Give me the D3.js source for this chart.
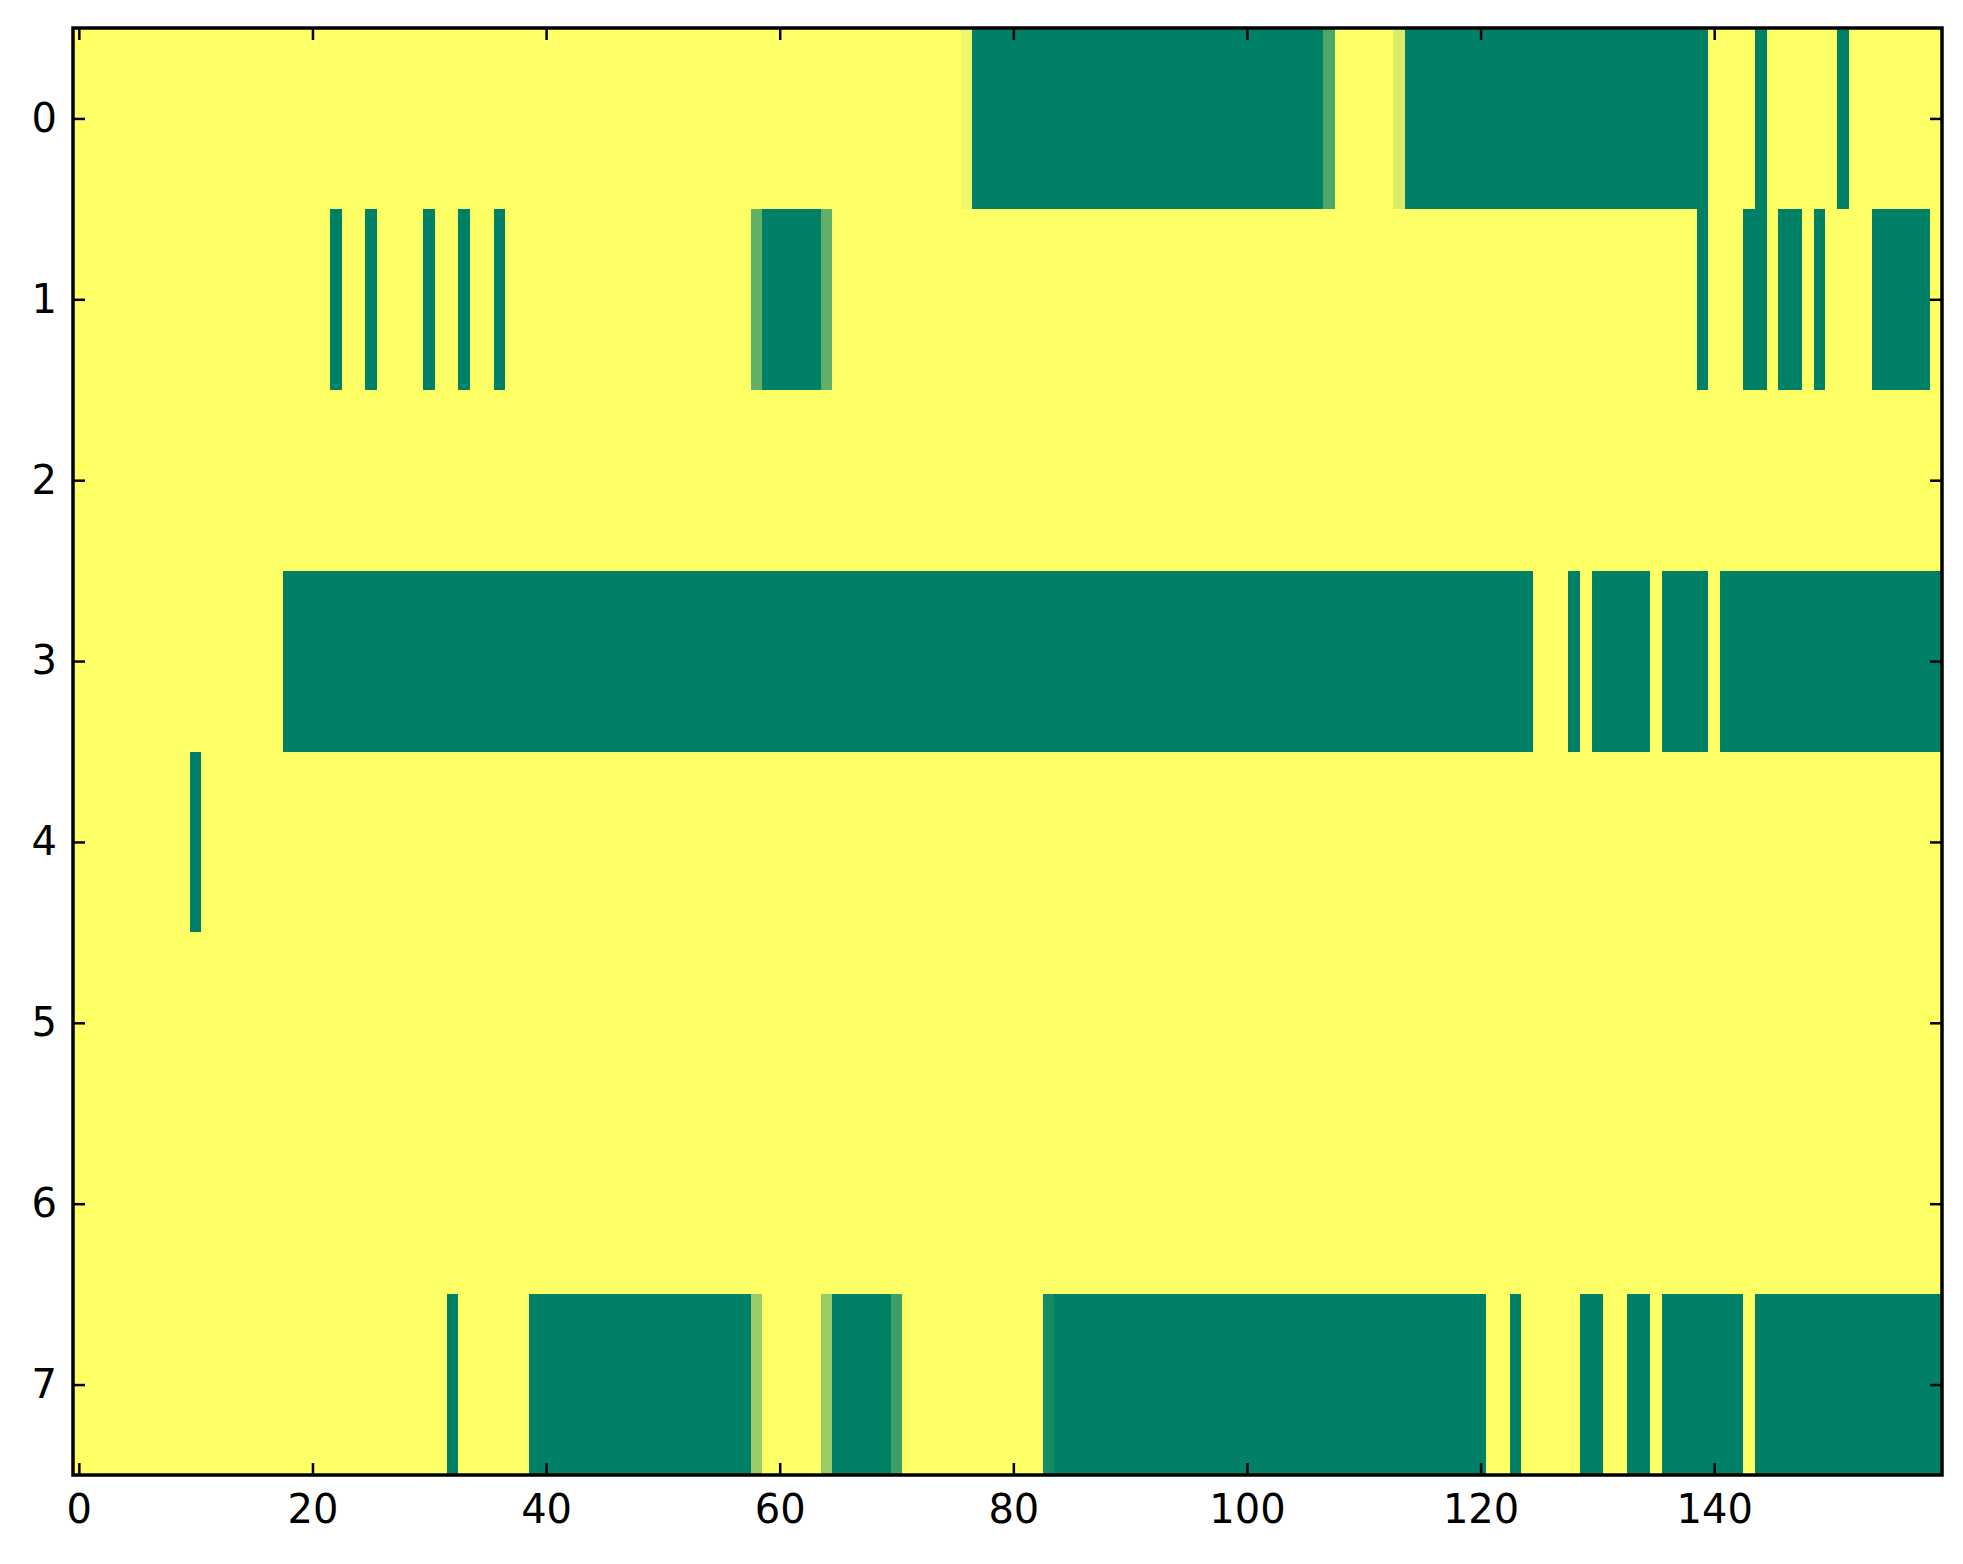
<!DOCTYPE html>
<html>
<head>
<meta charset="utf-8">
<script src="https://cdn.jsdelivr.net/npm/d3@7"></script>
<style>
  body { margin: 0; background: #fff; }
  text { font-family: "DejaVu Sans", sans-serif; }
</style>
</head>
<body>
<script>
// 8 rows x 160 columns, value 1 = yellow, 0 = green (summer colormap)
const nCols = 160;
const rowIds = [0, 1, 2, 3, 4, 5, 6, 7];
const xTicks = [0, 20, 40, 60, 80, 100, 120, 140];

// runs of non-yellow cells per row: [firstCol, lastCol, value]
const row0 = [[76, 76, 0.94], [77, 106, 0], [107, 107, 0.3], [113, 113, 0.86], [114, 139, 0], [144, 144, 0], [151, 151, 0]];
const row1 = [[22, 22, 0], [25, 25, 0], [30, 30, 0], [33, 33, 0], [36, 36, 0], [58, 58, 0.38], [59, 63, 0], [64, 64, 0.38],
              [139, 139, 0], [143, 144, 0], [146, 147, 0], [149, 149, 0], [154, 158, 0]];
const row2 = [];
const row3 = [[18, 124, 0], [128, 128, 0], [130, 134, 0], [136, 139, 0], [141, 159, 0]];
const row4 = [[10, 10, 0]];
const row5 = [];
const row6 = [];
const row7 = [[32, 32, 0], [39, 57, 0], [58, 58, 0.6], [64, 64, 0.6], [65, 69, 0], [70, 70, 0.24], [83, 83, 0.08],
              [84, 120, 0], [123, 123, 0], [129, 130, 0], [133, 134, 0], [136, 142, 0], [144, 159, 0]];
const rowRuns = [row0, row1, row2, row3, row4, row5, row6, row7];

const cells = [];
rowRuns.forEach((runs, r) => {
    const vals = new Array(nCols).fill(1);
    runs.forEach(([a, b, v]) => { for (let c = a; c <= b; c++) vals[c] = v; });
    vals.forEach((v, c) => cells.push({ row: r, col: c, v: v }));
});

const [w, h] = [1963, 1564];
const margin = { left: 73, right: 21, top: 28, bottom: 89 };

const svg = d3.select('body').append('svg')
    .attr('width', w)
    .attr('height', h);

const x = d3.scaleLinear()
    .domain([-0.5, nCols - 0.5])
    .range([margin.left, w - margin.right]);

const y = d3.scaleLinear()
    .domain([-0.5, rowIds.length - 0.5])
    .range([margin.top, h - margin.bottom]);

const color = d3.scaleLinear()
    .domain([0, 1])
    .range(['rgb(0,128,102)', 'rgb(255,255,102)']);

// cells
svg.append('g')
    .attr('shape-rendering', 'crispEdges')
    .selectAll('rect')
    .data(cells)
    .join('rect')
    .attr('x', d => x(d.col - 0.5))
    .attr('y', d => y(d.row - 0.5))
    .attr('width', d => x(d.col + 0.5) - x(d.col - 0.5))
    .attr('height', d => y(d.row + 0.5) - y(d.row - 0.5))
    .attr('fill', d => color(d.v));

// axes, ticks pointing inward on all four sides
const tickLen = 12;
const styleAxis = g => {
    g.select('.domain').remove();
    g.selectAll('.tick line').attr('stroke', '#000').attr('stroke-width', 2.5);
    g.selectAll('.tick text').attr('fill', '#000').attr('font-size', 40);
};

svg.append('g')
    .attr('transform', `translate(0,${h - margin.bottom})`)
    .call(d3.axisBottom(x).tickValues(xTicks).tickSizeInner(-tickLen).tickSizeOuter(0).tickPadding(20))
    .call(styleAxis);

svg.append('g')
    .attr('transform', `translate(0,${margin.top})`)
    .call(d3.axisTop(x).tickValues(xTicks).tickSizeInner(-tickLen).tickSizeOuter(0).tickFormat(''))
    .call(styleAxis);

svg.append('g')
    .attr('transform', `translate(${margin.left},0)`)
    .call(d3.axisLeft(y).tickValues(rowIds).tickSizeInner(-tickLen).tickSizeOuter(0).tickPadding(16))
    .call(styleAxis);

svg.append('g')
    .attr('transform', `translate(${w - margin.right},0)`)
    .call(d3.axisRight(y).tickValues(rowIds).tickSizeInner(-tickLen).tickSizeOuter(0).tickFormat(''))
    .call(styleAxis);

// frame
svg.append('rect')
    .attr('x', margin.left)
    .attr('y', margin.top)
    .attr('width', w - margin.left - margin.right)
    .attr('height', h - margin.top - margin.bottom)
    .attr('fill', 'none')
    .attr('stroke', '#000')
    .attr('stroke-width', 3.5);
</script>
</body>
</html>
